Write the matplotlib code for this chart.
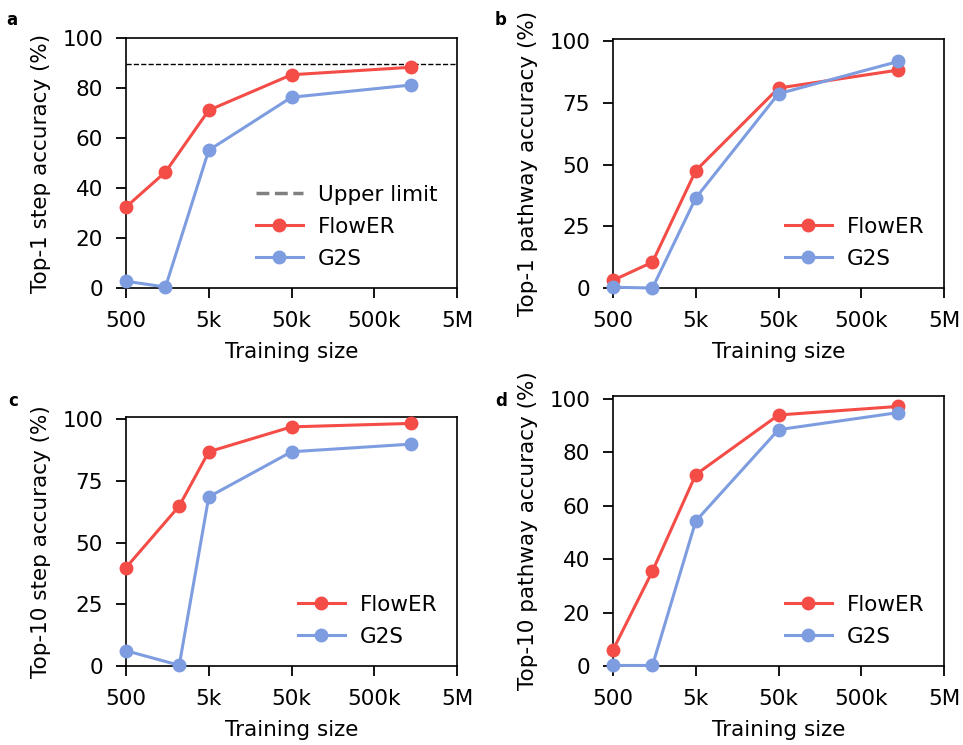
import matplotlib.pyplot as plt
from matplotlib.lines import Line2D

# training sizes (log x axis)
sizes_ab = [500, 1500, 5000, 50000, 1400000]
sizes_c = [500, 2200, 5000, 50000, 1400000]
sizes_d = [500, 1500, 5000, 50000, 1400000]

# a: top-1 step accuracy
flower_a = [32.4, 46.4, 71.1, 85.3, 88.3]
g2s_a = [2.7, 0.4, 55.1, 76.3, 81.2]
upper_limit = 89.6

# b: top-1 pathway accuracy
flower_b = [3.1, 10.5, 47.6, 81.1, 88.4]
g2s_b = [0.3, 0.0, 36.5, 78.8, 91.9]

# c: top-10 step accuracy
flower_c = [39.9, 64.9, 86.9, 97.0, 98.4]
g2s_c = [6.2, 0.3, 68.6, 86.9, 90.0]

# d: top-10 pathway accuracy
flower_d = [6.0, 35.5, 71.6, 93.9, 97.1]
g2s_d = [0.2, 0.2, 54.2, 88.4, 94.8]

xticks = [500, 5000, 50000, 500000, 5000000]
xtick_labels = ['500', '5k', '50k', '500k', '5M']

RED = '#F44C47'
BLUE = '#7E9DE0'
FS = 15.5
LW = 2.2
MS = 9

W, H = 963, 745
fig = plt.figure(figsize=(W / 100, H / 100), dpi=100)


def make_ax(left, right, top, bottom):
    return fig.add_axes([left / W, 1 - bottom / H, (right - left) / W, (bottom - top) / H])


def style(ax, ylabel, yticks, ytop):
    ax.set_xscale('log')
    ax.set_xlim(500, 5e6)
    ax.set_ylim(0, ytop)
    ax.set_xticks(xticks)
    ax.set_xticklabels(xtick_labels)
    ax.minorticks_off()
    ax.set_yticks(yticks)
    ax.tick_params(labelsize=FS, length=7.5, width=1.3, pad=9)
    ax.set_xlabel('Training size', fontsize=FS, labelpad=8)
    ax.set_ylabel(ylabel, fontsize=FS, labelpad=8)
    for s in ax.spines.values():
        s.set_linewidth(1.2)


def draw(ax, x, fl, g2):
    ax.plot(x, fl, '-o', color=RED, lw=LW, ms=MS, label='FlowER', clip_on=False, zorder=3)
    ax.plot(x, g2, '-o', color=BLUE, lw=LW, ms=MS, label='G2S', clip_on=False, zorder=3)


def add_legend(ax, *args):
    ax.legend(*args, frameon=False, fontsize=FS, loc='lower right',
              bbox_to_anchor=(1.0, 0.0), handlelength=2.2, handletextpad=0.7,
              labelspacing=0.55)


# panel a
ax_a = make_ax(126, 457, 38, 288)
ax_a.axhline(upper_limit, color='black', ls='--', lw=1)
draw(ax_a, sizes_ab, flower_a, g2s_a)
style(ax_a, 'Top-1 step accuracy (%)', [0, 20, 40, 60, 80, 100], 100)
handles = [Line2D([], [], color='gray', ls='--', lw=2.5),
           Line2D([], [], color=RED, marker='o', lw=LW, ms=MS),
           Line2D([], [], color=BLUE, marker='o', lw=LW, ms=MS)]
add_legend(ax_a, handles, ['Upper limit', 'FlowER', 'G2S'])

# panel b
ax_b = make_ax(613, 944, 39, 288)
draw(ax_b, sizes_ab, flower_b, g2s_b)
style(ax_b, 'Top-1 pathway accuracy (%)', [0, 25, 50, 75, 100], 101)
add_legend(ax_b)

# panel c
ax_c = make_ax(126, 457, 417, 666)
draw(ax_c, sizes_c, flower_c, g2s_c)
style(ax_c, 'Top-10 step accuracy (%)', [0, 25, 50, 75, 100], 101)
add_legend(ax_c)

# panel d
ax_d = make_ax(613, 944, 396, 666)
draw(ax_d, sizes_d, flower_d, g2s_d)
style(ax_d, 'Top-10 pathway accuracy (%)', [0, 20, 40, 60, 80, 100], 101)
add_legend(ax_d)

# panel letters
for letter, x, y in [('a', 12, 20), ('b', 501, 20), ('c', 13, 401), ('d', 501, 401)]:
    fig.text(x / W, 1 - y / H, letter, fontsize=12, fontweight='bold', ha='center', va='center')

fig.savefig('out.png', dpi=100)
